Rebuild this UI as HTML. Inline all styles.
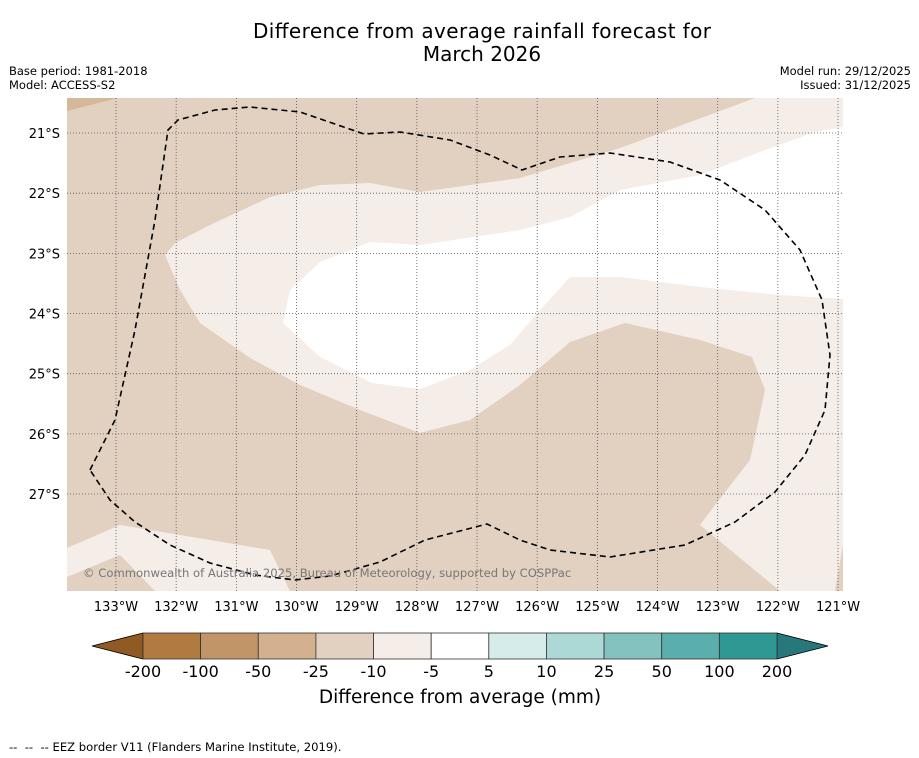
<!DOCTYPE html>
<html><head><meta charset="utf-8"><style>
body{margin:0;background:#fff;width:919px;height:758px;overflow:hidden;font-family:"Liberation Sans","DejaVu Sans",sans-serif}
svg{display:block}
</style></head><body>
<svg width="919" height="758" viewBox="0 0 919 758" font-family="DejaVu Sans, Liberation Sans, sans-serif">
<text x="482" y="38" font-size="20" text-anchor="middle" textLength="458">Difference from average rainfall forecast for</text>
<text x="482" y="61" font-size="20" text-anchor="middle">March 2026</text>
<text x="9" y="75" font-size="11.5">Base period: 1981-2018</text>
<text x="9" y="89" font-size="11.5">Model: ACCESS-S2</text>
<text x="911" y="75" font-size="11.5" text-anchor="end">Model run: 29/12/2025</text>
<text x="911" y="89" font-size="11.5" text-anchor="end">Issued: 31/12/2025</text>
<defs><clipPath id="mc"><rect x="67" y="98" width="776" height="493"/></clipPath></defs>
<g clip-path="url(#mc)">
<rect x="67" y="98" width="776" height="493" fill="#e2d0c0"/>
<polygon fill="#d6b898" points="67,98 118,98 67,111"/>
<polygon fill="#f4ede8" points="755,98 843,98 843,545 835,591 780,591 700,525 715,505 750,460 765,390 752,357 700,340 625,323 570,342 520,385 470,420 420,433 360,410 300,385 250,358 200,323 180,290 165,255 175,243 210,225 270,197 320,185 370,183 420,192 520,178 620,148"/>
<polygon fill="#ffffff" points="843,127 843,299 780,295 700,287 620,277 570,277 540,310 510,345 470,370 420,389 372,383 320,357 283,323 290,290 320,262 370,242 420,245 520,230 570,217 620,190 700,175 760,152 815,132"/>
<polygon fill="#f4ede8" points="67,548 120,525 270,550 290,591 155,591 120,555 67,577"/>
<g id="grid" stroke="#555" stroke-width="0.8" stroke-dasharray="1,2"></g>
<polyline fill="none" stroke="#000" stroke-width="1.6" stroke-dasharray="6,4" stroke-linejoin="round" points="90,470 115,420 135,330 155,220 168,130 178,120 215,110 250,107 300,112 364,134 400,132 450,140 490,155 522,170 560,157 610,153 670,162 720,180 765,210 800,250 822,300 830,355 825,410 805,455 775,492 735,522 685,545 610,557 550,550 520,540 487,524 425,540 380,562 330,576 295,580 255,575 210,563 170,545 135,522 110,500 90,470"/>
<text x="83" y="577" font-size="11.6" fill="#777">© Commonwealth of Australia 2025, Bureau of Meteorology, supported by COSPPac</text>
</g>
<g id="axes" font-size="13"></g>
<g id="cbar"></g>
<text x="460" y="703" font-size="18.5" text-anchor="middle">Difference from average (mm)</text>
<text x="9" y="751" font-size="11.6" style="white-space:pre">--  --  -- EEZ border V11 (Flanders Marine Institute, 2019).</text>
</svg>
<script>
const lons=[133,132,131,130,129,128,127,126,125,124,123,122,121];
const lats=[21,22,23,24,25,26,27];
const cbLabels=["-200","-100","-50","-25","-10","-5","5","10","25","50","100","200"];
const cbColors=["#b07a40","#c29568","#d3b18f","#e2d0c0","#f4ede8","#ffffff","#d6ecea","#acd8d6","#82c2bf","#5aaeab","#2f9893"];
const NS="http://www.w3.org/2000/svg";
const xL=l=>116+(133-l)*60.17, yL=l=>133+(l-21)*60.17;
function mk(t,a,p){const e=document.createElementNS(NS,t);for(const k in a)e.setAttribute(k,a[k]);p.appendChild(e);return e;}
const grid=document.getElementById('grid'),axes=document.getElementById('axes'),cb=document.getElementById('cbar');
lons.forEach(l=>{const ln=mk('line',{x1:xL(l),x2:xL(l),y1:98,y2:591},grid);


const t=mk('text',{x:xL(l),y:611,'text-anchor':'middle'},axes);t.textContent=l+'°W';

});
lats.forEach(l=>{const ln=mk('line',{x1:67,x2:843,y1:yL(l),y2:yL(l)},grid);


const t=mk('text',{x:60,y:yL(l)+5,'text-anchor':'end'},axes);t.textContent=l+'°S';

});
const x0=143,x1=777,w=(x1-x0)/cbColors.length,y0=633,h=26;
const la=mk('polygon',{points:`${x0},${y0} 92,${y0+h/2} ${x0},${y0+h}`,fill:'#8f5a24',stroke:'#000','stroke-width':0.8},cb);


const ra=mk('polygon',{points:`${x1},${y0} 828,${y0+h/2} ${x1},${y0+h}`,fill:'#27787a',stroke:'#000','stroke-width':0.8},cb);


cbColors.forEach((c,i)=>{const r=mk('rect',{x:x0+i*w,y:y0,width:w,height:h,fill:c,stroke:'#333','stroke-width':0.8},cb);

});
cbLabels.forEach((s,i)=>{const t=mk('text',{x:x0+i*w,y:677,'font-size':16,'text-anchor':'middle'},cb);t.textContent=s;

});
</script>
</body></html>
